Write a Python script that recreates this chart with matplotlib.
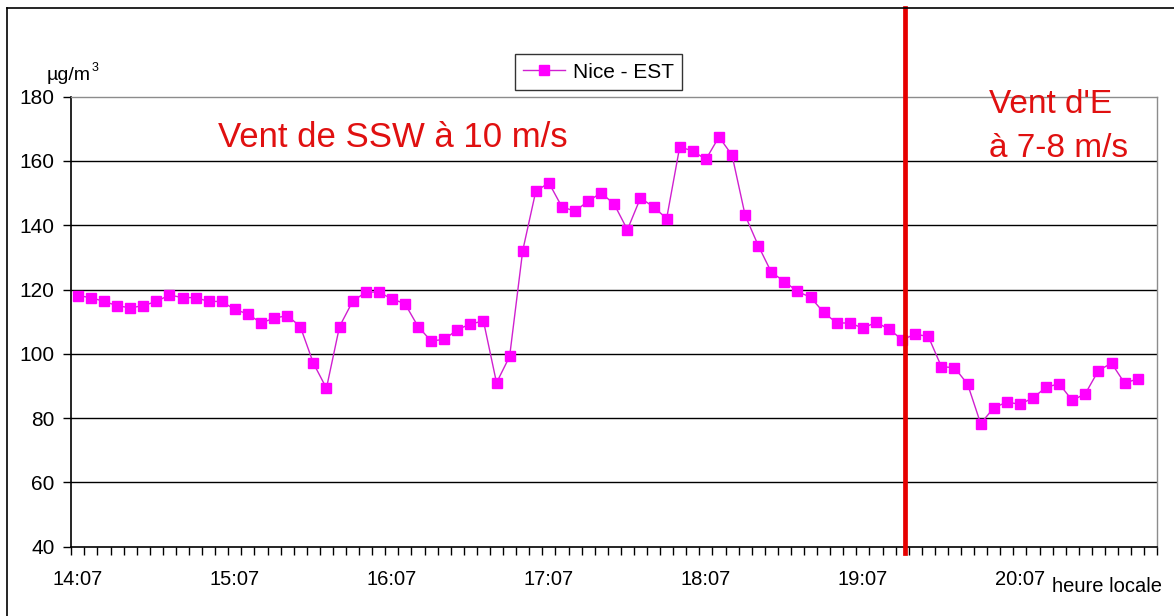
import numpy as np
import matplotlib.pyplot as plt
from matplotlib.lines import Line2D

plt.rcParams['font.family'] = ['Liberation Sans', 'DejaVu Sans']

# mesures toutes les 5 minutes a partir de 14:07
heures = ['14:07', '15:07', '16:07', '17:07', '18:07', '19:07', '20:07']
valeurs = [118.1, 117.5, 116.3, 115.0, 114.3, 115.0, 116.3, 118.3, 117.5, 117.5,
           116.3, 116.3, 113.8, 112.4, 109.6, 111.1, 111.9, 108.5, 97.1, 89.3,
           108.5, 116.3, 119.2, 119.2, 117.1, 115.6, 108.5, 104.0, 104.5, 107.5,
           109.3, 110.2, 91.0, 99.2, 132.1, 150.6, 153.2, 145.7, 144.4, 147.5,
           150.1, 146.5, 138.6, 148.5, 145.7, 142.1, 164.4, 163.1, 160.5, 167.5,
           161.8, 143.1, 133.7, 125.4, 122.5, 119.4, 117.6, 112.9, 109.6, 109.6,
           108.0, 109.8, 107.7, 104.4, 106.1, 105.4, 96.0, 95.7, 90.6, 78.3,
           83.2, 85.0, 84.3, 86.3, 89.6, 90.7, 85.5, 87.6, 94.8, 97.1,
           90.9, 92.2]
yticks = [40, 60, 80, 100, 120, 140, 160, 180]
n_cat = 83          # categories sur l'axe (la derniere est vide)
pas_label = 12      # une etiquette par heure
changement_vent = 63.25

rouge = '#e01010'
W, H = 1174, 616
fig = plt.figure(figsize=(W / 100, H / 100), dpi=100)
ax = fig.add_axes([71.3 / W, 1 - 546.7 / H, (1157.3 - 71.3) / W, (546.7 - 96.7) / H])

x = np.arange(len(valeurs))
ax.plot(x, valeurs, color='#d020d0', lw=1, marker='s', ms=6.5,
        mfc='#ff00ff', mec='#ff00ff', label='Nice - EST', zorder=3)

ax.set_xlim(-0.5, n_cat - 0.5)
ax.set_ylim(yticks[0], yticks[-1])
for v in yticks[1:-1]:
    ax.axhline(v, color='black', lw=1, zorder=1)

for s in ['left', 'bottom']:
    ax.spines[s].set_color('black')
    ax.spines[s].set_linewidth(1.2)
for s in ['top', 'right']:
    ax.spines[s].set_color('#8c8c8c')
    ax.spines[s].set_linewidth(1)

ax.set_yticks(yticks)
ax.tick_params(axis='y', direction='out', length=6, width=1, labelsize=15, pad=6)
ax.set_xticks(np.arange(0, len(valeurs), pas_label))
ax.set_xticklabels(heures)
ax.set_xticks(np.arange(n_cat + 1) - 0.5, minor=True)
ax.tick_params(axis='x', which='major', length=0, labelsize=14.5, pad=17)
ax.tick_params(axis='x', which='minor', direction='out', length=6, width=1)

# changement de regime de vent
ax.axvline(changement_vent, ymin=-0.014, ymax=1.197, color='#e60000', lw=3.4,
           clip_on=False, zorder=4)

fig.text(218 / W, 1 - 147 / H, 'Vent de SSW à 10 m/s', color=rouge, fontsize=25, va='baseline')
fig.text(989 / W, 1 - 113 / H, "Vent d'E", color=rouge, fontsize=24, va='baseline')
fig.text(989 / W, 1 - 157 / H, 'à 7-8 m/s', color=rouge, fontsize=24, va='baseline')
fig.text(1052 / W, 1 - 592 / H, 'heure locale', fontsize=14.5, va='baseline')
fig.text(47 / W, 1 - 80 / H, 'µg/m', fontsize=14, va='baseline')
fig.text(92 / W, 1 - 71 / H, '3', fontsize=9, va='baseline')

leg = ax.legend(loc='center', bbox_to_anchor=(598.5 / W, 1 - 72 / H),
                bbox_transform=fig.transFigure, fontsize=15, fancybox=False,
                edgecolor='black', handlelength=2, handletextpad=0.4, borderpad=0.4)
leg.get_frame().set_linewidth(1)

# cadre exterieur
fig.add_artist(Line2D([7 / W, 7 / W], [0, 1 - 8 / H], color='black', lw=1.2))
fig.add_artist(Line2D([7 / W, 1], [1 - 8 / H, 1 - 8 / H], color='black', lw=1.2))

fig.savefig('out.png', dpi=100)
